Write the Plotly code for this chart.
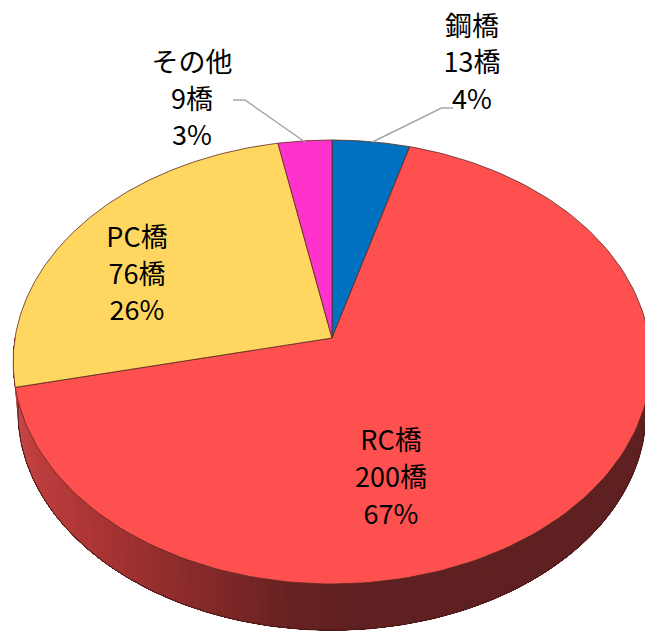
import numpy as np
import plotly.graph_objects as go

names = ["鋼橋", "RC橋", "PC橋", "その他"]
counts = [13, 200, 76, 9]
colors = ["#0070C0", "#FF5050", "#FFD760", "#FF33CC"]

W, H = 645, 634
AX, AY = 332.0, 338.0      # apex of the pie on the page
RX, RY, K = 317.0, 219.4, 0.108   # perspective of the disc
DEPTH, SHRINK = 50.0, 0.985

def rim(theta, dy=0.0, s=1.0):
    u, v = np.sin(theta), np.cos(theta)
    w = 1 + K * v
    return AX + s * RX * u / w, AY - s * RY * v / w + dy

def side_color(x):
    xs = [15, 30, 100, 200, 300, 360, 645]
    r = [200, 192, 170, 136, 102, 94, 94]
    g = [75, 62, 52, 42, 33, 32, 32]
    b = [75, 62, 52, 42, 33, 32, 32]
    return f"rgb({np.interp(x, xs, r):.0f},{np.interp(x, xs, g):.0f},{np.interp(x, xs, b):.0f})"

fig = go.Figure()
common = dict(mode="lines", hoverinfo="skip", showlegend=False)

# side wall of the disc: painted back to front so no seams show
total = sum(counts)
fracs = np.cumsum([0] + counts) / total
angles = np.linspace(np.pi / 2, 3 * np.pi / 2, 121)
for a0 in angles[:-1]:
    t = np.linspace(a0, 3 * np.pi / 2, 80)
    x0, y0 = rim(t)
    x1, y1 = rim(t[::-1], DEPTH, SHRINK)
    c = side_color(float(rim(np.array([a0]))[0][0]))
    fig.add_trace(go.Scatter(x=list(x0) + list(x1), y=list(y0) + list(y1), fill="toself",
                             fillcolor=c, line=dict(color=c, width=0), **common))
t = np.linspace(np.pi / 2, 3 * np.pi / 2, 200)
bx, by = rim(t, DEPTH, SHRINK)
fig.add_trace(go.Scatter(x=bx, y=by, line=dict(color="#4A1818", width=1), **common))

# top of the disc, one wedge per category
for i, col in enumerate(colors):
    t = np.linspace(2 * np.pi * fracs[i], 2 * np.pi * fracs[i + 1], 160)
    x, y = rim(t)
    fig.add_trace(go.Scatter(x=[AX] + list(x) + [AX], y=[AY] + list(y) + [AY], fill="toself",
                             fillcolor=col, line=dict(color="#5A2A20", width=0.8), **common))

# leader lines
leaders = [([372.5, 441.5, 453], [142, 108, 108]), ([305, 245, 233], [142, 100, 100])]
for lx, ly in leaders:
    fig.add_trace(go.Scatter(x=lx, y=ly, line=dict(color="#A6A6A6", width=1.5), **common))

# labels
label_x = [472, 391, 137, 192]
label_y = [[29, 65, 102], [443, 480, 517], [240, 277, 313], [65, 102, 138]]
for i, n in enumerate(names):
    lines = [n, f"{counts[i]}橋", f"{100 * counts[i] / total:.0f}%"]
    fig.add_trace(go.Scatter(x=[label_x[i]] * 3, y=label_y[i], text=lines, mode="text",
                             textposition="middle center", hoverinfo="skip", showlegend=False,
                             textfont=dict(family="Noto Sans CJK JP", size=27, color="#000000")))

fig.update_layout(width=W, height=H, margin=dict(l=0, r=0, t=0, b=0), paper_bgcolor="white",
                  plot_bgcolor="white", showlegend=False,
                  xaxis=dict(range=[0, W], visible=False, fixedrange=True),
                  yaxis=dict(range=[H, 0], visible=False, fixedrange=True))
fig.write_html("out.html", config={"displayModeBar": False},
               post_script="document.body.style.margin='0';document.documentElement.style.overflow='hidden';")
